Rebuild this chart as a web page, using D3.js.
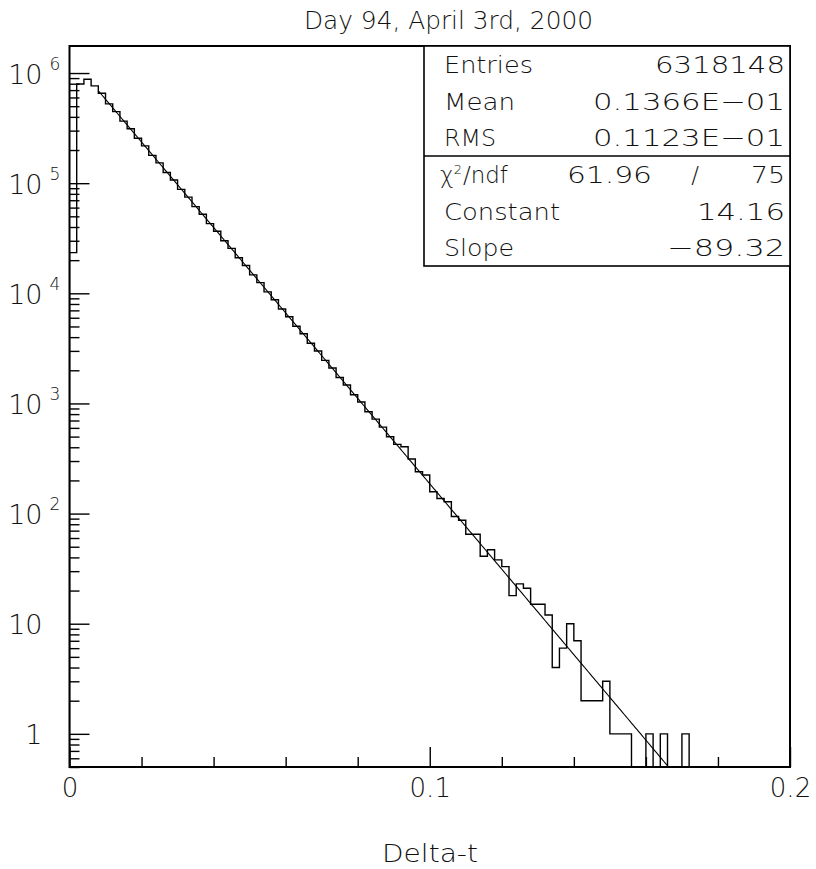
<!DOCTYPE html>
<html><head><meta charset="utf-8">
<script src="https://cdn.jsdelivr.net/npm/d3@7"></script>
<style>
body{margin:0;background:#fff}
svg{display:block}
text{font-family:"DejaVu Sans",sans-serif;fill:#111;font-weight:300}
</style>
</head><body>
<svg id="c" width="816" height="869"></svg>
<script>
// ---------------- data ----------------
const title = "Day 94, April 3rd, 2000";
const xLabel = "Delta-t";
const xDomain = [0, 0.2];
const binWidth = 0.002;
const counts = [
  23400, 796000, 879000, 764000, 656000, 525000, 446000, 366000, 312000, 256000,
  218000, 179000, 153000, 125000, 107000, 87800, 74700, 61300, 52300, 42900,
  36600, 30000, 25600, 21000, 17900, 14700, 12500, 10300, 8750, 7200,
  6120, 5030, 4290, 3520, 2990, 2460, 2100, 1720, 1470, 1200,
  1030, 840, 720, 610, 498, 425, 404, 313, 240, 224,
  158, 137, 128, 94, 87, 65, 65, 41, 47, 38,
  33, 18, 23, 21, 15, 15, 12, 4, 6, 10,
  7, 2, 2, 2, 3, 1, 1, 1, 0, 0,
  1, 0, 1, 0, 0, 1, 0, 0, 0, 0,
  0, 0, 0, 0, 0, 0, 0, 0, 0, 0
];
const xMinorTicks = [0.02, 0.04, 0.06, 0.08, 0.12, 0.14, 0.16, 0.18];
const xMajorTicks = [0, 0.1, 0.2];
const xTickLabels = ["0", "0.1", "0.2"];
const yDomain = [0.5, 1.76e6];
const yDecades = [1, 10, 100, 1000, 1e4, 1e5, 1e6];
const yBaseLabels = ["1", "10", "10", "10", "10", "10", "10"];
const yExpLabels = ["", "", "2", "3", "4", "5", "6"];
const statLabels = ["Entries", "Mean", "RMS"];
const statValues = ["6318148", "0.1366E\u221201", "0.1123E\u221201"];
const chi2Value = "61.96";
const ndfValue = "75";
const fitLabels = ["Constant", "Slope"];
const fitValues = ["14.16", "\u221289.32"];
const fitConstant = 14.16;
const fitSlope = -89.32;
const fitFrom = 0.008;

// ---------------- layout ----------------
const L = 69.5, R = 790, T = 46, B = 767;
const svg = d3.select("#c");
const x = d3.scaleLinear().domain(xDomain).range([L, R]);
const y = d3.scaleLog().domain(yDomain).range([B, T]);

svg.append("defs").append("clipPath").attr("id", "clip")
  .append("rect").attr("x", L).attr("y", T).attr("width", R - L).attr("height", B - T);

// histogram
const pts = [];
counts.forEach((c, i) => {
  const v = c > 0 ? Math.max(c, yDomain[0]) : yDomain[0];
  pts.push([i * binWidth, v]);
});
pts.push([counts.length * binWidth, yDomain[0]]);
const stepLine = d3.line().x(d => x(d[0])).y(d => y(d[1])).curve(d3.curveStepAfter);
svg.append("path")
  .attr("d", "M" + x(0) + "," + B + stepLine(pts).replace(/^M/, "L"))
  .attr("fill", "none").attr("stroke", "#000").attr("stroke-width", 1.4)
  .attr("clip-path", "url(#clip)");

// fit line
const fitPts = d3.range(fitFrom, xDomain[1] + 1e-9, 0.0005).map(v => [v, Math.exp(fitConstant + fitSlope * v)]);
const fitLine = d3.line().x(d => x(d[0])).y(d => y(Math.max(d[1], 1e-3)));
svg.append("path").attr("d", fitLine(fitPts))
  .attr("fill", "none").attr("stroke", "#000").attr("stroke-width", 1.1)
  .attr("clip-path", "url(#clip)");

// axes
function clean(g) { g.select(".domain").remove(); g.selectAll(".tick line").attr("stroke", "#000").attr("stroke-width", 1.4); }
svg.append("g").attr("transform", `translate(0,${B})`)
  .call(d3.axisBottom(x).tickValues(xMinorTicks).tickSizeInner(-10).tickSizeOuter(0).tickFormat(""))
  .call(clean);
const gxM = svg.append("g").attr("transform", `translate(0,${B})`)
  .call(d3.axisBottom(x).tickValues(xMajorTicks).tickSizeInner(-20).tickSizeOuter(0)
    .tickFormat((d, i) => xTickLabels[i]))
  .call(clean);
gxM.selectAll(".tick text").attr("dy", null).attr("y", 30)
  .attr("font-size", 26).attr("font-family", null).attr("fill", null);

const yMinor = [];
for (let e = -1; e <= 6; e++) for (let k = 2; k <= 9; k++) {
  const v = k * Math.pow(10, e);
  if (v >= yDomain[0] && v <= yDomain[1]) yMinor.push(v);
}
svg.append("g").attr("transform", `translate(${L},0)`)
  .call(d3.axisLeft(y).tickValues(yMinor).tickSizeInner(-10).tickSizeOuter(0).tickFormat(""))
  .call(clean);
const gyM = svg.append("g").attr("transform", `translate(${L},0)`)
  .call(d3.axisLeft(y).tickValues(yDecades).tickSizeInner(-20).tickSizeOuter(0).tickFormat(""))
  .call(clean);
gyM.selectAll(".tick text").remove();
gyM.selectAll(".tick").each(function(d, i) {
  const g = d3.select(this);
  g.append("text").attr("x", -27).attr("y", 10).attr("text-anchor", "end")
    .attr("font-size", 27).text(yBaseLabels[i]);
  if (yExpLabels[i]) g.append("text").attr("x", -20).attr("y", -4).attr("text-anchor", "start")
    .attr("font-size", 17).text(yExpLabels[i]);
});

// frame
svg.append("rect").attr("x", L).attr("y", T).attr("width", R - L).attr("height", B - T)
  .attr("fill", "none").attr("stroke", "#000").attr("stroke-width", 2);

// title and axis label
svg.append("text").attr("x", 448.5).attr("y", 29).attr("text-anchor", "middle")
  .attr("font-size", 24).attr("textLength", 289).attr("lengthAdjust", "spacingAndGlyphs").text(title);
svg.append("text").attr("x", 430).attr("y", 862).attr("text-anchor", "middle")
  .attr("font-size", 25).attr("textLength", 96).attr("lengthAdjust", "spacingAndGlyphs").text(xLabel);

// stats box
const bx0 = 424, bx1 = R, by0 = T, bMid = 156, by1 = 266;
const rowH = (bMid - by0) / 3;
svg.append("rect").attr("x", bx0).attr("y", by0).attr("width", bx1 - bx0).attr("height", by1 - by0)
  .attr("fill", "#fff").attr("stroke", "#000").attr("stroke-width", 1.6);
svg.append("line").attr("x1", bx0).attr("x2", bx1).attr("y1", bMid).attr("y2", bMid)
  .attr("stroke", "#000").attr("stroke-width", 1.6);
const fs = 23;
const base = (r) => by0 + rowH * (r + 0.5) + 8.5;
function txt(s, xx, yy, anchor, len) {
  const t = svg.append("text").attr("x", xx).attr("y", yy).attr("font-size", fs)
    .attr("text-anchor", anchor).text(s);
  if (len) t.attr("textLength", len).attr("lengthAdjust", "spacingAndGlyphs");
  return t;
}
const labelLens = [89, 71, 52];
const valueLens = [130, 192, 192];
statLabels.forEach((s, i) => {
  txt(s, 444, base(i), "start", labelLens[i]);
  txt(statValues[i], 785, base(i), "end", valueLens[i]);
});
// chi2 row
const chiT = svg.append("text").attr("x", 440).attr("y", base(3)).attr("font-size", fs);
chiT.append("tspan").text("\u03c7");
chiT.append("tspan").attr("dy", -9).attr("font-size", 13).text("2");
chiT.append("tspan").attr("dy", 9).attr("dx", 1).text("/ndf");
txt(chi2Value, 609.5, base(3), "middle", 85);
txt("/", 695, base(3), "middle");
txt(ndfValue, 785, base(3), "end", 34);
const fitLabelLens = [116, 70];
const fitValueLens = [88, 118];
fitLabels.forEach((s, i) => {
  txt(s, 444, base(4 + i), "start", fitLabelLens[i]);
  txt(fitValues[i], 785, base(4 + i), "end", fitValueLens[i]);
});
</script>
</body></html>
